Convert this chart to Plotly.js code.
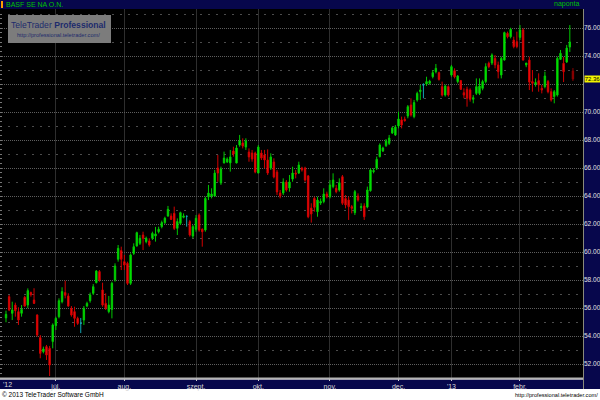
<!DOCTYPE html>
<html>
<head>
<meta charset="utf-8">
<script src="https://cdn.plot.ly/plotly-3.0.1.min.js"></script>
<style>
html,body{margin:0;padding:0;background:#fff;}
#chart{width:600px;height:400px;}
</style>
</head>
<body>
<div id="chart"></div>
<script>
// BASF SE NA O.N. daily candles, 8 Jun 2012 - 26 Feb 2013 (trading-day index 1..183)
var openP = [
55.29,56.81,55.62,56.21,55.74,55.62,56.76,56.21,57.10,56.57,55.50,53.88,52.88,53.24,53.12,53.60,
54.74,55.38,56.45,57.10,56.86,55.98,55.74,55.26,54.90,55.14,56.14,56.52,57.05,57.81,58.60,57.29,56.33,55.74,55.90,58.00,59.48,60.10,
59.31,59.19,57.76,59.90,60.43,60.62,61.21,60.74,60.79,60.98,61.14,61.45,61.81,62.10,62.57,62.57,62.76,61.69,62.05,62.48,62.55,62.17,61.14,
61.62,62.64,61.62,61.57,63.93,64.00,64.00,66.00,64.93,66.36,66.43,66.36,67.21,66.36,67.64,67.79,67.50,67.14,67.07,67.07,
65.64,67.07,66.93,66.57,66.00,66.43,65.71,64.21,64.21,65.00,64.57,65.21,65.64,65.64,66.00,66.00,65.43,63.14,63.83,62.88,63.50,63.60,64.14,
63.95,64.67,64.55,64.43,65.38,63.83,63.71,63.24,62.81,64.00,63.17,63.29,63.21,64.38,65.74,65.98,66.81,67.21,67.60,67.76,68.50,68.36,
69.00,69.43,69.48,69.71,70.50,69.67,70.86,71.45,71.93,72.00,72.05,72.52,72.88,72.81,71.81,71.21,71.81,
72.64,72.95,72.17,72.24,71.38,71.62,71.57,70.91,71.33,71.33,71.69,72.17,73.48,73.50,73.83,73.36,72.64,73.71,75.62,75.38,75.14,75.02,
75.33,75.86,73.36,73.71,72.17,72.00,72.24,71.69,71.81,72.17,71.45,71.10,71.21,73.76,73.48,73.57,74.64,72.93
];
var highP = [
55.81,56.93,56.45,56.38,56.05,56.21,56.86,57.40,57.17,57.41,55.55,54.07,53.24,53.36,53.29,54.90,
55.38,56.69,57.48,57.95,57.05,56.14,56.09,55.38,55.29,56.14,56.45,57.10,57.71,58.71,58.71,57.81,57.05,56.86,57.88,59.19,60.50,60.38,
59.79,59.31,59.90,60.62,61.45,61.21,61.45,61.10,60.98,61.45,61.79,61.81,62.24,62.52,63.29,62.76,63.24,62.40,62.88,62.76,62.60,62.29,61.93,
62.64,62.76,61.69,63.95,64.79,64.55,65.86,66.93,66.10,67.17,66.76,67.29,67.52,67.64,68.36,68.12,68.12,67.40,67.29,67.17,
67.64,67.29,67.29,67.33,67.05,66.69,65.86,64.43,65.26,65.14,65.50,66.09,65.86,66.45,66.09,66.09,65.50,63.48,63.95,63.95,63.83,64.55,64.31,
65.14,65.62,64.79,65.26,65.50,64.07,63.95,63.36,64.43,64.19,63.48,63.48,64.67,65.98,65.98,66.81,67.76,67.52,68.07,68.36,68.95,69.07,
70.02,69.67,69.67,70.50,70.98,70.86,71.45,71.93,72.05,72.52,72.30,73.00,73.43,72.88,72.17,71.95,71.90,
73.36,73.12,72.64,72.29,71.69,71.81,71.69,71.21,72.40,72.40,72.30,73.48,73.60,74.19,74.07,73.60,73.95,75.74,75.74,76.02,75.38,75.74,
76.21,75.98,73.50,73.95,73.00,72.40,72.76,71.93,72.88,72.29,71.69,71.57,73.95,74.43,73.93,74.79,76.21,73.14
];
var lowP = [
54.98,55.78,55.14,55.38,54.79,55.38,56.09,55.98,56.81,56.30,53.95,52.41,52.76,52.29,51.14,53.12,
54.43,55.26,56.33,56.69,56.09,55.38,54.66,54.79,54.21,54.79,56.05,56.38,56.93,57.76,57.88,56.09,55.86,55.62,55.26,57.88,59.31,58.71,
58.71,57.64,57.64,59.79,60.38,60.50,60.14,60.62,60.38,60.86,60.74,61.33,61.69,62.00,62.52,62.29,61.57,61.21,61.93,62.41,61.81,61.10,60.98,
61.45,61.45,60.38,61.45,63.71,63.83,63.95,65.02,64.79,66.33,66.36,65.74,66.81,66.33,67.52,67.40,67.29,66.45,66.45,65.62,
65.62,66.57,65.98,65.50,65.86,65.26,64.07,63.83,64.07,64.31,64.31,65.02,65.26,65.57,65.74,65.02,62.41,62.10,62.88,62.52,63.36,63.48,63.83,
63.83,64.55,64.19,64.31,63.36,63.12,62.29,62.76,62.64,63.60,63.00,62.29,63.12,64.31,65.62,65.86,66.76,67.14,67.50,67.64,68.43,68.29,
68.83,68.83,69.31,69.55,69.67,69.55,70.74,70.86,70.98,71.86,71.95,72.40,72.76,72.24,71.10,71.10,71.10,
72.52,72.40,72.05,71.57,70.98,70.38,70.74,70.62,71.21,71.21,71.55,72.05,73.12,73.36,73.12,72.40,72.40,73.67,75.26,75.26,74.55,74.55,
75.14,73.67,73.20,71.57,71.45,71.81,71.45,71.33,71.69,71.33,70.74,70.62,71.10,73.71,72.14,73.50,74.29,72.21
];
var closeP = [
55.55,55.86,55.86,55.81,55.14,55.90,56.14,57.24,56.95,56.33,54.07,52.76,53.07,52.64,51.93,54.79,
55.26,56.52,57.17,56.91,56.14,55.50,55.26,54.90,54.90,55.98,56.33,56.93,57.52,58.64,58.00,56.21,55.98,56.21,57.76,59.00,60.26,59.48,
59.07,57.76,59.79,60.38,61.38,60.98,60.98,60.98,60.50,61.33,61.29,61.62,62.10,62.41,63.05,62.33,61.69,62.17,62.81,62.57,62.55,61.21,61.81,
62.41,61.57,61.45,63.83,64.21,64.14,65.64,65.64,65.93,66.71,66.64,66.79,67.00,67.43,67.93,67.57,67.93,66.79,66.64,65.71,
67.50,66.71,66.57,65.64,66.79,65.36,64.29,64.00,65.00,64.43,65.00,65.64,65.57,66.21,65.86,65.14,62.52,62.71,63.19,63.71,63.60,64.14,63.95,
64.79,65.14,64.31,64.95,63.48,63.36,63.24,63.12,64.31,63.71,63.24,62.52,64.43,65.86,65.81,66.62,67.64,67.43,67.93,68.14,68.86,68.93,
69.50,69.07,69.38,70.38,69.79,70.67,71.33,71.57,71.93,72.17,72.20,72.81,73.12,72.33,71.21,71.86,71.21,
73.24,72.52,72.57,71.62,71.21,70.98,70.91,71.02,71.81,71.86,72.17,73.24,73.24,74.07,73.36,72.88,73.83,75.67,75.38,75.90,74.67,74.67,
75.86,73.71,73.50,72.14,72.05,72.10,71.93,71.57,72.57,71.45,70.86,71.45,73.83,74.19,72.88,74.57,75.00,72.36
];

// x-axis month labels (trading-day index of the first session of each month)
var monthTickIdx = [17, 39, 62, 82, 105, 127, 144, 166];
var monthLabels = ["júl.", "aug.", "szept.", "okt.", "nov.", "dec.", "'13", "febr."];
var yearLabel = "'12";

// y-axis price labels
var priceTicks = [52, 54, 56, 58, 60, 62, 64, 66, 68, 70, 72, 74, 76];
var priceTickText = ["52.00","54.00","56.00","58.00","60.00","62.00","64.00","66.00","68.00","70.00","","74.00","76.00"];

var titleText = "BASF SE NA O.N.";
var periodText = "naponta";

// ---- build traces ----
var n = closeP.length;
var idx = [];
for (var i = 0; i < n; i++) idx.push(i + 1);

function pick(arr, test) { var r = []; for (var i = 0; i < n; i++) if (test(i)) r.push(arr[i]); return r; }
var isLast = function (i) { return i === n - 1; };
var isDoji = function (i) { return i !== n - 1 && openP[i] === closeP[i]; };
var isMain = function (i) { return !isLast(i) && !isDoji(i); };

function candle(test, incLine, incFill, decLine, decFill) {
  return {
    type: 'candlestick',
    x: pick(idx, test), open: pick(openP, test), high: pick(highP, test),
    low: pick(lowP, test), close: pick(closeP, test),
    increasing: { line: { color: incLine, width: 1 }, fillcolor: incFill },
    decreasing: { line: { color: decLine, width: 1 }, fillcolor: decFill },
    whiskerwidth: 0, hoverinfo: 'skip', showlegend: false
  };
}

var traces = [
  candle(isMain, '#00c800', '#00f400', '#d00000', '#ff1414'),
  candle(isDoji, '#10a6b4', '#10a6b4', '#10a6b4', '#10a6b4'),
  candle(isLast, '#8a0000', '#8a0000', '#8a0000', '#a00000')
];

// pixel helpers for paper-positioned decoration (plot area: x 0..583, y 9..378)
var PW = 583, PT = 9, PB = 378, PH = PB - PT;
function px(x) { return x / PW; }
function py(y) { return (PB - y) / PH; }

var navy = '#07074c';
var shapes = [
  { type: 'rect', xref: 'paper', yref: 'paper', x0: 0, x1: px(600), y0: py(9), y1: py(0), fillcolor: navy, line: { width: 0 }, layer: 'below' },
  { type: 'rect', xref: 'paper', yref: 'paper', x0: px(1), x1: px(3), y0: py(8), y1: py(1), fillcolor: '#ff9c00', line: { width: 0 }, layer: 'above' },
  { type: 'rect', xref: 'paper', yref: 'paper', x0: 1, x1: px(600), y0: py(389), y1: py(9), fillcolor: navy, line: { width: 0 }, layer: 'below' },
  { type: 'rect', xref: 'paper', yref: 'paper', x0: 0, x1: 1, y0: py(389), y1: py(379.5), fillcolor: navy, line: { width: 0 }, layer: 'below' },
  { type: 'line', xref: 'paper', yref: 'paper', x0: 0, x1: 1, y0: py(378.5), y1: py(378.5), line: { color: '#b4b4b4', width: 2 }, layer: 'above' },
  { type: 'line', xref: 'paper', yref: 'paper', x0: px(583.5), x1: px(583.5), y0: py(389), y1: py(9), line: { color: '#8a8a7a', width: 1 }, layer: 'above' },
  // watermark box
  { type: 'rect', xref: 'paper', yref: 'paper', x0: px(8), x1: px(111), y0: py(43), y1: py(15), fillcolor: '#7c7c7c', line: { width: 0 }, layer: 'above' }
];

var narrow = '"Liberation Sans Narrow", "Arial Narrow", "Liberation Sans", Arial, sans-serif';
var annotations = [
  { xref: 'paper', yref: 'paper', x: px(4), y: py(4.5), xanchor: 'left', yanchor: 'middle', text: titleText, showarrow: false, font: { family: narrow, size: 7, color: '#00c000' } },
  { xref: 'paper', yref: 'paper', x: px(581), y: py(4.5), xanchor: 'right', yanchor: 'middle', text: periodText, showarrow: false, font: { family: narrow, size: 7, color: '#00c000' } },
  { xref: 'paper', yref: 'paper', x: px(58.5), y: py(25.5), xanchor: 'center', yanchor: 'middle', text: 'TeleTrader <b>Professional</b>', showarrow: false, font: { family: narrow, size: 8.6, color: '#1c2b6c' } },
  { xref: 'paper', yref: 'paper', x: px(102), y: py(34.5), xanchor: 'right', yanchor: 'middle', text: 'http://professional.teletrader.com/', showarrow: false, font: { family: narrow, size: 5.6, color: '#1c2b6c' } },
  { xref: 'paper', yref: 'paper', x: px(0.5), y: py(384.5), xanchor: 'left', yanchor: 'middle', text: yearLabel, showarrow: false, font: { family: narrow, size: 7, color: '#d8d8d8' } },
  { xref: 'paper', yref: 'y', x: px(583.5), y: closeP[n - 1], xanchor: 'left', yanchor: 'middle', xshift: 0, text: closeP[n - 1].toFixed(2), showarrow: false, bgcolor: '#f2f200', borderpad: 0, width: 15, align: 'center', font: { family: narrow, size: 6, color: '#000' } },
  { xref: 'paper', yref: 'paper', x: 0, y: py(395), xanchor: 'left', yanchor: 'middle', text: '© 2013 TeleTrader Software GmbH', showarrow: false, font: { family: '"Liberation Sans", Arial, sans-serif', size: 6.5, color: '#000' } },
  { xref: 'paper', yref: 'paper', x: px(600), y: py(395), xanchor: 'right', yanchor: 'middle', text: 'http://professional.teletrader.com/', showarrow: false, font: { family: narrow, size: 5.6, color: '#000' } }
];

var yRange = [51.0, 77.357];
var layout = {
  width: 600, height: 400,
  margin: { l: 0, r: 17, t: 9, b: 22, pad: 0 },
  paper_bgcolor: '#ffffff', plot_bgcolor: '#000000',
  showlegend: false, hovermode: false, dragmode: false,
  boxgap: 0.35,
  xaxis: {
    range: [-0.926, 186.23], rangeslider: { visible: false },
    tickmode: 'array', tickvals: monthTickIdx, ticktext: monthLabels,
    showgrid: true, gridcolor: '#2e2e2e', gridwidth: 1,
    ticks: 'outside', ticklen: 2, tickcolor: '#d0d0d0',
    tickfont: { family: narrow, size: 7, color: '#d8d8d8' },
    showline: false, zeroline: false, fixedrange: true
  },
  yaxis: {
    range: yRange, side: 'right',
    tickmode: 'array', tickvals: priceTicks, ticktext: priceTickText,
    showgrid: true, gridcolor: '#5e5e5e', griddash: '1px,1px', gridwidth: 1,
    minor: { tickmode: 'linear', tick0: 51, dtick: 2, showgrid: true, gridcolor: '#4c4c4c', griddash: '2px,6px', ticks: '' },
    ticks: '', ticklabelstandoff: 0,
    tickfont: { family: narrow, size: 6.5, color: '#e0e0e0' },
    showline: false, zeroline: false, fixedrange: true
  },
  yaxis2: {
    range: yRange, overlaying: 'y', side: 'left', anchor: 'x',
    tickmode: 'linear', tick0: 52, dtick: 1 / 3,
    ticks: 'inside', ticklen: 2, tickcolor: '#777777',
    showticklabels: false, showgrid: false, zeroline: false, showline: false, fixedrange: true
  },
  shapes: shapes,
  annotations: annotations
};

// invisible helper trace so the left-edge tick scale (yaxis2) is drawn
traces.push({ type: 'scatter', x: [idx[0]], y: [closeP[0]], yaxis: 'y2', mode: 'markers', marker: { opacity: 0 }, hoverinfo: 'skip', showlegend: false });

Plotly.newPlot('chart', traces, layout, { staticPlot: true, displayModeBar: false });
</script>
</body>
</html>
